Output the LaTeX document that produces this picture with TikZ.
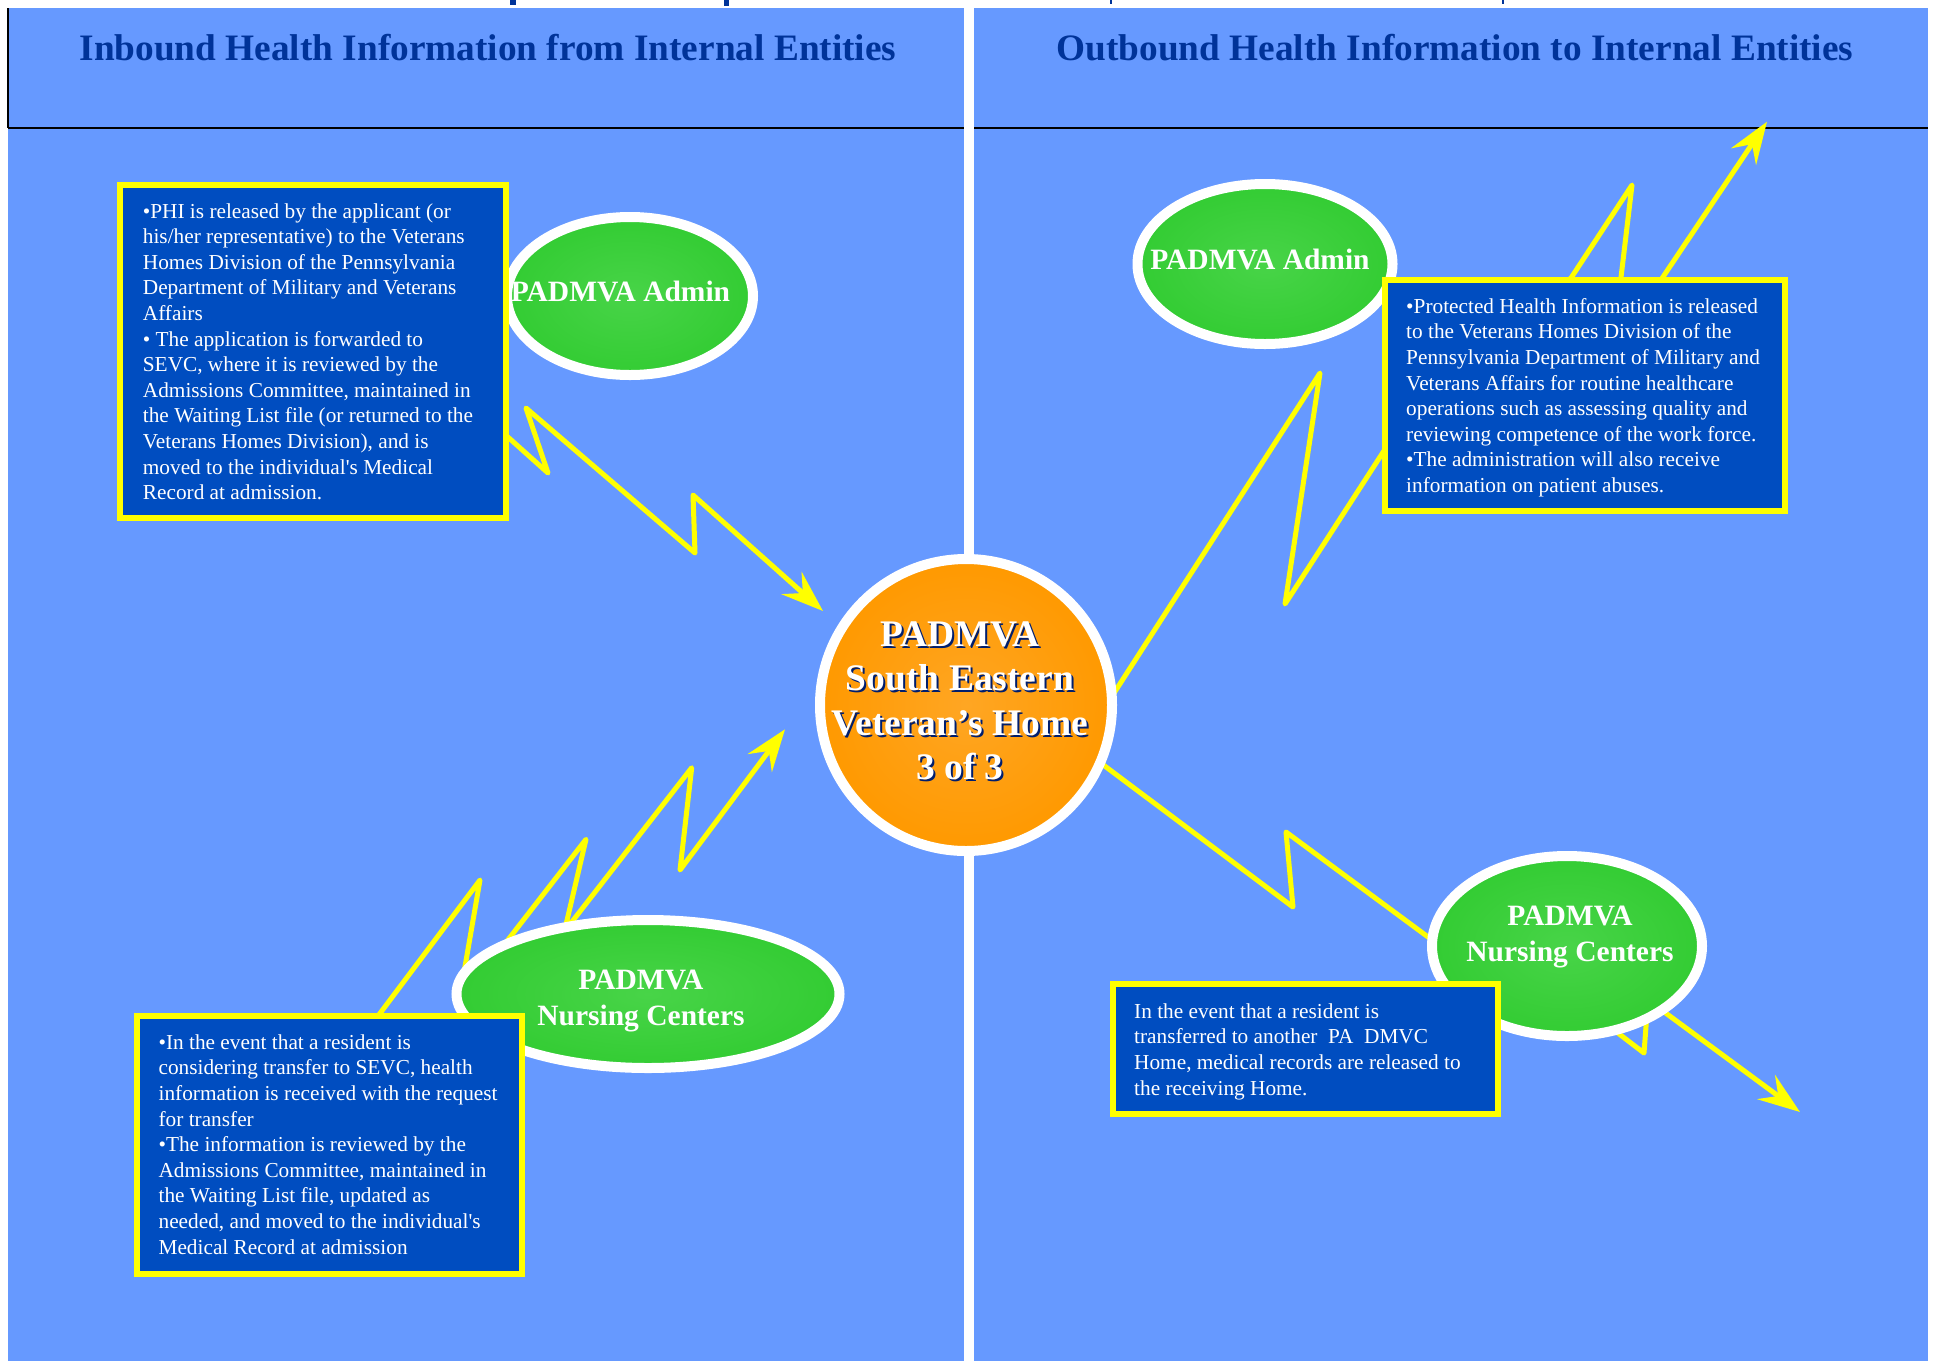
\documentclass[tikz,border=0pt]{standalone}
\usepackage{fontspec}
\setmainfont{Liberation Serif}
\usetikzlibrary{shapes.geometric,arrows.meta}
\definecolor{bgblue}{RGB}{102,153,255}
\definecolor{boxblue}{RGB}{0,77,192}
\definecolor{titleblue}{RGB}{0,51,153}
\definecolor{nodegreen}{RGB}{51,204,51}
\definecolor{glowgreen}{RGB}{72,212,72}
\definecolor{orng}{RGB}{255,153,0}
\definecolor{orngglow}{RGB}{255,166,35}
\definecolor{ylw}{RGB}{255,255,0}
\definecolor{shadownavy}{RGB}{0,30,110}
\newcommand{\mylines}[1]{\begin{tabular}[t]{@{}l@{}}#1\end{tabular}}
\newcommand{\mycentre}[1]{\begin{tabular}[t]{@{}c@{}}#1\end{tabular}}
\tikzset{
  paneltitle/.style={font=\fontsize{37.3}{44}\selectfont\bfseries, text=titleblue, inner sep=0pt, anchor=base},
  zig/.style={draw=ylw, line width=5pt, line join=round, line cap=round},
  ztip/.style={-{Stealth[length=42pt,width=30pt,inset=15pt]}},
  greenell/.style={ellipse, draw=white, line width=10pt, inner color=glowgreen, outer color=nodegreen, inner sep=0pt},
  infobox/.style={rectangle, draw=ylw, line width=6pt, fill=boxblue, inner sep=0pt},
  bodytext/.style={font=\fontsize{21.3}{25.6}\selectfont, text=white, inner sep=0pt, anchor=base west},
  elltext/.style={font=\fontsize{29.5}{36.4}\selectfont\bfseries, text=white, inner sep=0pt, anchor=base},
  circtext/.style={font=\fontsize{37.5}{44.2}\selectfont\bfseries, inner sep=0pt, anchor=base}
}
\begin{document}
\begin{tikzpicture}[x=1pt,y=-1pt]
\useasboundingbox (0,0) rectangle (1933,1361);
\fill[white] (0,0) rectangle (1933,1361);
% panels
\fill[bgblue] (8,8) rectangle (964,1361);
\fill[bgblue] (974,8) rectangle (1928,1361);
\draw[line width=2.5pt] (8,128) -- (964,128);
\draw[line width=2.5pt] (974,128) -- (1928,128);
\draw[line width=1.5pt] (8.2,8) -- (8.2,128);
% fragments of the cut-off title above
\fill[titleblue] (510,0) rectangle (516,5);
\fill[titleblue] (724,0) rectangle (729,6);
\fill[titleblue] (1110,0) rectangle (1112,4);
\fill[titleblue] (1502,0) rectangle (1504,4);
% titles
\node[paneltitle] (tin) at (488,60) {Inbound Health Information from Internal Entities};
\node[paneltitle] (tout) at (1455,60) {Outbound Health Information to Internal Entities};

% lightning connectors
\coordinate (a0) at (490,421);
\coordinate (a1) at (548,473);
\coordinate (a2) at (526,408);
\coordinate (a3) at (695,553);
\coordinate (a4) at (693,495);
\coordinate (atip) at (823,611);
\draw[zig,ztip] (a0) -- (a1) -- (a2) -- (a3) -- (a4) -- (atip);

\coordinate (b0) at (360,1040);
\coordinate (b1) at (480,880);
\coordinate (b2) at (458.6,1003.5);
\coordinate (b3) at (586,839.3);
\coordinate (b4) at (564.4,931.5);
\coordinate (b5) at (691.7,767.7);
\coordinate (b6) at (680,870);
\coordinate (btip) at (785,729.3);
\draw[zig,ztip] (b0) -- (b1) -- (b2) -- (b3) -- (b4) -- (b5) -- (b6) -- (btip);

\coordinate (c0) at (1107.6,703);
\coordinate (c1) at (1320,373);
\coordinate (c2) at (1285,604);
\coordinate (c3) at (1420,395);
\coordinate (c4) at (1571,278);
\coordinate (c5) at (1632,185);
\coordinate (c6) at (1612,353);
\coordinate (ctip) at (1767,121.7);
\draw[zig,ztip] (c0) -- (c1) -- (c2) -- (c3) -- (c4) -- (c5) -- (c6) -- (ctip);

\coordinate (d0) at (1094,758);
\coordinate (d1) at (1293,907);
\coordinate (d2) at (1286,832);
\coordinate (d3) at (1470,968);
\coordinate (d4) at (1580,1004);
\coordinate (d5) at (1644,1053);
\coordinate (d6) at (1648,1000);
\coordinate (dtip) at (1800,1112);
\draw[zig,ztip] (d0) -- (d1) -- (d2) -- (d3) -- (d4) -- (d5) -- (d6) -- (dtip);

% ellipses
\node[greenell, minimum width=246pt, minimum height=158pt] (ladmin) at (630,296) {};
\node[elltext] (ladmint) at (620.5,301.7) {PADMVA Admin};
\node[greenell, minimum width=255pt, minimum height=160pt] (radmin) at (1265,264) {};
\node[elltext] (radmint) at (1260,269.3) {PADMVA Admin};
\node[greenell, minimum width=383pt, minimum height=148pt] (lnurse) at (648,994) {};
\node[elltext] (lnurset) at (641,989.3) {\mycentre{PADMVA\\Nursing Centers}};
\node[greenell, minimum width=270pt, minimum height=180pt] (rnurse) at (1567,946) {};
\node[elltext] (rnurset) at (1570,925) {\mycentre{PADMVA\\Nursing Centers}};

% central circle
\node[circle, draw=white, line width=10pt, inner color=orngglow, outer color=orng, minimum size=292pt, inner sep=0pt] (home) at (966,705) {};
\node[circtext, text=shadownavy] (homesh) at (962,648.7) {\mycentre{PADMVA\\South Eastern\\Veteran’s Home\\3 of 3}};
\node[circtext, text=white] (homet) at (960,646.7) {\mycentre{PADMVA\\South Eastern\\Veteran’s Home\\3 of 3}};

% info boxes
\node[infobox, minimum width=385.5pt, minimum height=333pt] (lbox1) at (312.75,351) {};
\node[bodytext] (lbox1t) at (142.7,218) {\mylines{%
•PHI is released by the applicant (or\\
his/her representative) to the Veterans\\
Homes Division of the Pennsylvania\\
Department of Military and Veterans\\
Affairs\\
• The application is forwarded to\\
SEVC, where it is reviewed by the\\
Admissions Committee, maintained in\\
the Waiting List file (or returned to the\\
Veterans Homes Division), and is\\
moved to the individual\textquotesingle s Medical\\
Record at admission.}};

\node[infobox, minimum width=385.5pt, minimum height=258pt] (lbox2) at (329.25,1145) {};
\node[bodytext] (lbox2t) at (158.4,1049.3) {\mylines{%
•In the event that a resident is\\
considering transfer to SEVC, health\\
information is received with the request\\
for transfer\\
•The information is reviewed by the\\
Admissions Committee, maintained in\\
the Waiting List file, updated as\\
needed, and moved to the individual\textquotesingle s\\
Medical Record at admission}};

\node[infobox, minimum width=400pt, minimum height=231pt] (rbox1) at (1585,395.5) {};
\node[bodytext] (rbox1t) at (1406,313.3) {\mylines{%
•Protected Health Information is released\\
to the Veterans Homes Division of the\\
Pennsylvania Department of Military and\\
Veterans Affairs for routine healthcare\\
operations such as assessing quality and\\
reviewing competence of the work force.\\
•The administration will also receive\\
information on patient abuses.}};

\node[infobox, minimum width=385pt, minimum height=129.5pt] (rbox2) at (1305.5,1048.75) {};
\node[bodytext] (rbox2t) at (1134,1018.3) {\mylines{%
In the event that a resident is\\
transferred to another\ \ PA\ \ DMVC\\
Home, medical records are released to\\
the receiving Home.}};
\end{tikzpicture}
\end{document}
